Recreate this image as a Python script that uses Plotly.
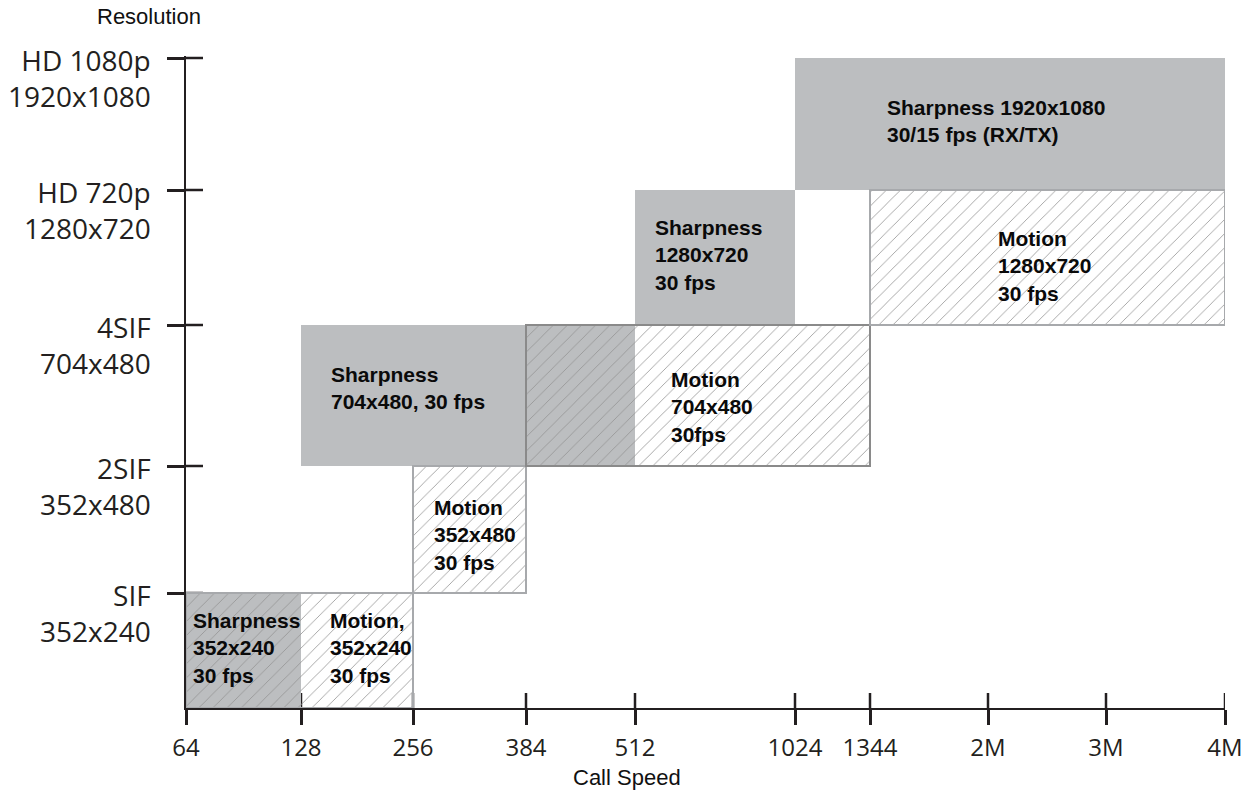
import plotly.graph_objects as go

# ---------------- data ----------------
x_labels = ["64", "128", "256", "384", "512", "1024", "1344", "2M", "3M", "4M"]
y_level_names = ["base", "SIF", "2SIF", "4SIF", "HD 720p", "HD 1080p"]
y_labels_top = ["SIF", "2SIF", "4SIF", "HD 720p", "HD 1080p"]
y_labels_bottom = ["352x240", "352x480", "704x480", "1280x720", "1920x1080"]

sharp_text = ["Sharpness<br>352x240<br>30 fps",
              "Sharpness<br>704x480, 30 fps",
              "Sharpness<br>1280x720<br>30 fps",
              "Sharpness 1920x1080<br>30/15 fps (RX/TX)"]
sharp_from = ["64", "128", "512", "1024"]
sharp_to = ["128", "512", "1024", "4M"]
sharp_low = ["base", "2SIF", "4SIF", "HD 720p"]
sharp_high = ["SIF", "4SIF", "HD 720p", "HD 1080p"]

motion_text = ["Motion,<br>352x240<br>30 fps",
               "Motion<br>352x480<br>30 fps",
               "Motion<br>704x480<br>30fps",
               "Motion<br>1280x720<br>30 fps"]
motion_from = ["64", "256", "384", "1344"]
motion_to = ["256", "384", "1344", "4M"]
motion_low = ["base", "SIF", "2SIF", "4SIF"]
motion_high = ["SIF", "2SIF", "4SIF", "HD 720p"]

# ---------------- axis layout (non-uniform scale positions) ----------------
x_pos = [0, 115, 227, 340, 449, 609, 684, 802, 920, 1039]
y_pos = [0, 115, 242, 383, 518, 650]
XMAX, YMAX = 1039, 652
xp = dict(zip(x_labels, x_pos))
yp = dict(zip(y_level_names, y_pos))

# label placement styling
sharp_lab_anchor = ["64", "128", "512", "1024"]
sharp_lab_dx = [5, 28, 18, 90]
sharp_lab_dy = [3, 8, 3, 3]
motion_lab_anchor = ["128", "256", "512", "1344"]
motion_lab_dx = [27, 19, 34, 126]
motion_lab_dy = [3, -5, -11, -8]

GREY = "#BCBEC0"
DARK = "#231F20"
HATCH = "#929292"

fig = go.Figure()


def bar_geom(f, t, lo, hi):
    xc = [(xp[a] + xp[b]) / 2 for a, b in zip(f, t)]
    w = [xp[b] - xp[a] for a, b in zip(f, t)]
    base = [yp[a] for a in lo]
    h = [yp[b] - yp[a] for a, b in zip(lo, hi)]
    return xc, w, base, h


xc, w, base, h = bar_geom(sharp_from, sharp_to, sharp_low, sharp_high)
fig.add_trace(go.Bar(x=xc, y=h, base=base, width=w,
                     marker=dict(color=GREY, line=dict(width=0)),
                     hoverinfo="skip", showlegend=False))

xc, w, base, h = bar_geom(motion_from, motion_to, motion_low, motion_high)
fig.add_trace(go.Bar(x=xc, y=h, base=base, width=w,
                     marker=dict(color="rgba(0,0,0,0)",
                                 line=dict(width=2, color=["#a7a9ac", "#a7a9ac", "#8a8a8a", "#a7a9ac"]),
                                 pattern=dict(shape="/", size=10, solidity=0.08,
                                              fgcolor=HATCH, bgcolor="rgba(0,0,0,0)",
                                              fillmode="replace")),
                     hoverinfo="skip", showlegend=False))

annotations = []
box_font = dict(family="Liberation Sans, Arial", size=21, color="#0a0a0a")
for txt, anc, dx, dy, lo, hi in zip(sharp_text, sharp_lab_anchor, sharp_lab_dx, sharp_lab_dy, sharp_low, sharp_high):
    annotations.append(dict(x=xp[anc], y=(yp[lo] + yp[hi]) / 2, xref="x", yref="y",
                            text="<b>" + txt + "</b>", showarrow=False, xanchor="left",
                            yanchor="middle", align="left", xshift=dx, yshift=dy, font=box_font))
for txt, anc, dx, dy, lo, hi in zip(motion_text, motion_lab_anchor, motion_lab_dx, motion_lab_dy, motion_low, motion_high):
    annotations.append(dict(x=xp[anc], y=(yp[lo] + yp[hi]) / 2, xref="x", yref="y",
                            text="<b>" + txt + "</b>", showarrow=False, xanchor="left",
                            yanchor="middle", align="left", xshift=dx, yshift=dy, font=box_font))

# y-axis two-line labels
lab_font = dict(family="Open Sans", size=28, color=DARK)
for top, bot, yv in zip(y_labels_top, y_labels_bottom, y_pos[1:]):
    annotations.append(dict(x=0, y=yv, xref="paper", yref="y", text=top + "<br>" + bot,
                            showarrow=False, xanchor="right", yanchor="middle", align="right",
                            xshift=-33, yshift=-20, font=lab_font))

# axis titles
title_font = dict(family="Liberation Sans, Arial", size=22, color="#111111")
annotations.append(dict(x=-37 / XMAX, y=1, xref="paper", yref="paper", text="Resolution",
                        showarrow=False, xanchor="center", yanchor="middle", yshift=40, font=title_font))
annotations.append(dict(x=441 / XMAX, y=0, xref="paper", yref="paper", text="Call Speed",
                        showarrow=False, xanchor="center", yanchor="middle", yshift=-69, font=title_font))

# inner halves of the crossing ticks
shapes = []
for xv in x_pos:
    shapes.append(dict(type="line", xref="x", yref="paper", x0=xv, x1=xv, y0=0, y1=15 / YMAX,
                       line=dict(color=DARK, width=2.5), layer="below"))
for yv in y_pos[1:]:
    shapes.append(dict(type="line", xref="paper", yref="y", x0=0, x1=17 / XMAX, y0=yv, y1=yv,
                       line=dict(color=DARK, width=2.5), layer="below"))

fig.update_layout(
    width=1243, height=792, autosize=False,
    margin=dict(l=186, r=18, t=56, b=84, pad=0),
    paper_bgcolor="white", plot_bgcolor="white",
    barmode="overlay", showlegend=False,
    annotations=annotations, shapes=shapes,
    xaxis=dict(range=[0, XMAX], showgrid=False, zeroline=False, showline=True, automargin=False,
               linecolor=DARK, linewidth=2, ticks="outside", ticklen=15, tickwidth=2.5,
               tickcolor=DARK, tickmode="array", tickvals=x_pos, ticktext=x_labels,
               tickfont=dict(family="Open Sans", size=24, color=DARK), ticklabelstandoff=2,
               fixedrange=True),
    yaxis=dict(range=[0, YMAX], showgrid=False, zeroline=False, showline=True, automargin=False,
               linecolor=DARK, linewidth=2, ticks="outside", ticklen=17, tickwidth=2.5,
               tickcolor=DARK, tickmode="array", tickvals=y_pos[1:], showticklabels=False,
               fixedrange=True),
)

fig.write_html("out.html",
               config={"displayModeBar": False, "responsive": False},
               post_script="document.body.style.margin='0px';document.body.style.overflow='hidden';")
